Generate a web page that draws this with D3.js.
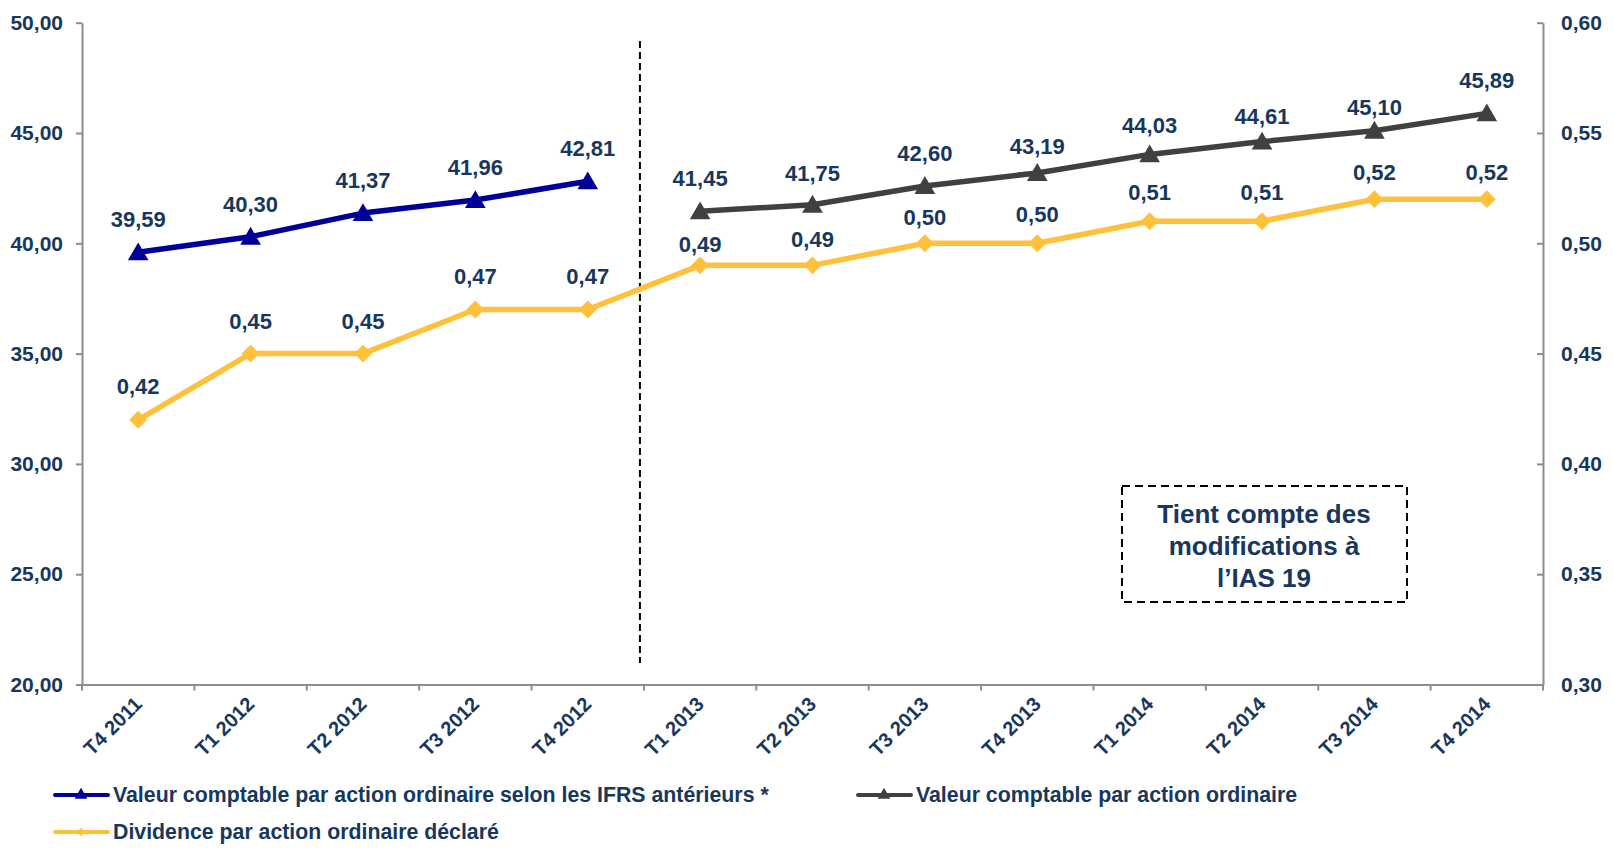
<html lang="fr">
<head>
  <meta charset="UTF-8">
  <title>Valeur comptable et dividende par action</title>
  <style>
    body { margin: 0; background: #fff; }
    text { font-family: Arial, "Liberation Sans", sans-serif; font-weight: bold; }
  </style>
</head>
<body>
  <script src="https://d3js.org/d3.v7.min.js"></script>
  <div id="chart"></div>
  <script>
    // categories and series
    let quarters = ["T4 2011", "T1 2012", "T2 2012", "T3 2012", "T4 2012", "T1 2013", "T2 2013",
                    "T3 2013", "T4 2013", "T1 2014", "T2 2014", "T3 2014", "T4 2014"];
    let oldIfrs = [39.59, 40.30, 41.37, 41.96, 42.81];              // T4 2011 .. T4 2012
    let bookValue = [41.45, 41.75, 42.60, 43.19, 44.03, 44.61, 45.10, 45.89]; // T1 2013 .. T4 2014
    let dividend = [0.42, 0.45, 0.45, 0.47, 0.47, 0.49, 0.49, 0.50, 0.50, 0.51, 0.51, 0.52, 0.52];
    let leftTicks = [20, 25, 30, 35, 40, 45, 50];
    let rightTicks = [0.30, 0.35, 0.40, 0.45, 0.50, 0.55, 0.60];
    let legendKeys = ["Valeur comptable par action ordinaire selon les IFRS antérieurs *",
                      "Valeur comptable par action ordinaire",
                      "Dividence par action ordinaire déclaré"];
    let noteLines = ["Tient compte des", "modifications à", "l\u2019IAS 19"];

    // hand-placed label nudges (px, downward) as in the original
    let oldIfrsNudge = [0, 0, 0, 0, 0];
    let bookValueNudge = [0, 1, 0, 6, 4, 7, 9, 0];
    let dividendNudge = [-1, 0, 0, 0, 0, 12, 7, 7, 4, 4, 4, 6, 6];

    let textColor = "#17375e", blue = "#000099", gray = "#404040", yellow = "#ffc13b", axisColor = "#8c8c8c";

    function translate(x, y) { return 'translate(' + x + ',' + y + ')'; }
    let fmt = d => d3.format(".2f")(d).replace(".", ",");

    let W = 1613, H = 851;
    let plot = { left: 82, right: 1543, top: 22.7, bottom: 684.5 };

    let svg = d3.select("#chart").append("svg").attr("width", W).attr("height", H);

    let x = d3.scaleBand().domain(quarters).range([plot.left, plot.right]);
    let cx = d => x(d) + x.bandwidth() / 2;
    let yL = d3.scaleLinear().domain([20, 50]).range([plot.bottom, plot.top]);
    let yR = d3.scaleLinear().domain([0.30, 0.60]).range([plot.bottom, plot.top]);

    // axes
    let gl = svg.append("g").attr("transform", translate(plot.left, 0))
      .call(d3.axisLeft(yL).tickValues(leftTicks).tickFormat(fmt).tickSizeInner(6).tickSizeOuter(0).tickPadding(13));
    let gr = svg.append("g").attr("transform", translate(plot.right, 0))
      .call(d3.axisRight(yR).tickValues(rightTicks).tickFormat(fmt).tickSizeInner(-6).tickSizeOuter(0).tickPadding(18));
    let gx = svg.append("g").attr("transform", translate(0, plot.bottom))
      .call(d3.axisBottom(x).tickSize(0).tickSizeOuter(0));

    [gl, gr, gx].forEach(g => {
      g.select(".domain").attr("stroke", axisColor).attr("stroke-width", 2);
      g.selectAll(".tick line").attr("stroke", axisColor).attr("stroke-width", 2);
      g.selectAll(".tick text").attr("fill", textColor).style("font-size", "21px");
    });

    gx.selectAll(".tick text")
      .attr("x", 0).attr("y", 0)
      .attr("dy", "0.35em")
      .attr("text-anchor", "end")
      .attr("transform", translate(0, 16) + " rotate(-45)")
      .style("font-size", "20px");

    // category boundary ticks on x axis
    let bounds = quarters.map(q => x(q)).concat([plot.right]);
    gx.selectAll(".bound").data(bounds).enter().append("line")
      .attr("x1", d => d).attr("x2", d => d).attr("y1", 0).attr("y2", 6)
      .attr("stroke", axisColor).attr("stroke-width", 2);

    // dashed separator
    svg.append("line")
      .attr("x1", x("T1 2013") - 4).attr("x2", x("T1 2013") - 4)
      .attr("y1", 41).attr("y2", 663)
      .attr("stroke", "#000").attr("stroke-width", 2)
      .style("stroke-dasharray", "7,4");

    let triangle = d3.symbol().type(d3.symbolTriangle).size(185);
    let diamond = d3.symbol().type(d3.symbolSquare).size(160);

    function drawSeries(cats, vals, nudge, y, color, sym, rot) {
      let data = cats.map((c, i) => ({ c: c, v: vals[i], n: nudge[i] }));
      svg.append("path").datum(data)
        .attr("fill", "none").attr("stroke", color).attr("stroke-width", 5.5)
        .attr("stroke-linejoin", "round")
        .attr("d", d3.line().x(d => cx(d.c)).y(d => y(d.v)));
      svg.selectAll(null).data(data).enter().append("path")
        .attr("d", sym)
        .attr("fill", color)
        .attr("transform", d => translate(cx(d.c), y(d.v) + (rot ? 0 : 2)) + (rot ? " rotate(45)" : ""));
      svg.selectAll(null).data(data).enter().append("text")
        .attr("x", d => cx(d.c)).attr("y", d => y(d.v) - 25 + d.n)
        .attr("text-anchor", "middle")
        .attr("fill", textColor)
        .style("font-size", "22px")
        .text(d => fmt(d.v));
    }

    drawSeries(quarters.slice(0, 5), oldIfrs, oldIfrsNudge, yL, blue, triangle, false);
    drawSeries(quarters.slice(5), bookValue, bookValueNudge, yL, gray, triangle, false);
    drawSeries(quarters, dividend, dividendNudge, yR, yellow, diamond, true);

    // note box
    let note = svg.append("g");
    note.append("rect")
      .attr("x", 1122).attr("y", 486).attr("width", 285).attr("height", 116)
      .attr("fill", "none").attr("stroke", "#000").attr("stroke-width", 2)
      .style("stroke-dasharray", "8,5");
    note.selectAll("text").data(noteLines).enter().append("text")
      .attr("x", 1264).attr("y", (d, i) => 523 + i * 32)
      .attr("text-anchor", "middle")
      .attr("fill", textColor)
      .style("font-size", "26px")
      .text(d => d);

    // legend
    let legendItems = [
      { key: legendKeys[0], color: blue, sym: d3.symbol().type(d3.symbolTriangle).size(70), rot: false, x: 55, y: 795 },
      { key: legendKeys[1], color: gray, sym: d3.symbol().type(d3.symbolTriangle).size(70), rot: false, x: 858, y: 795 },
      { key: legendKeys[2], color: yellow, sym: d3.symbol().type(d3.symbolSquare).size(36), rot: true, x: 55, y: 832 }
    ];
    legendItems.forEach(it => {
      let g = svg.append("g").attr("transform", translate(it.x, it.y));
      g.append("line").attr("x1", 0).attr("x2", 53).attr("y1", 0).attr("y2", 0)
        .attr("stroke", it.color).attr("stroke-width", 4).attr("stroke-linecap", "round");
      g.append("path").attr("d", it.sym).attr("fill", it.color)
        .attr("transform", translate(26, 0) + (it.rot ? " rotate(45)" : ""));
      g.append("text").attr("x", 58).attr("dy", "0.35em")
        .attr("fill", textColor).style("font-size", "21.3px")
        .text(it.key);
    });
  </script>
</body>
</html>
